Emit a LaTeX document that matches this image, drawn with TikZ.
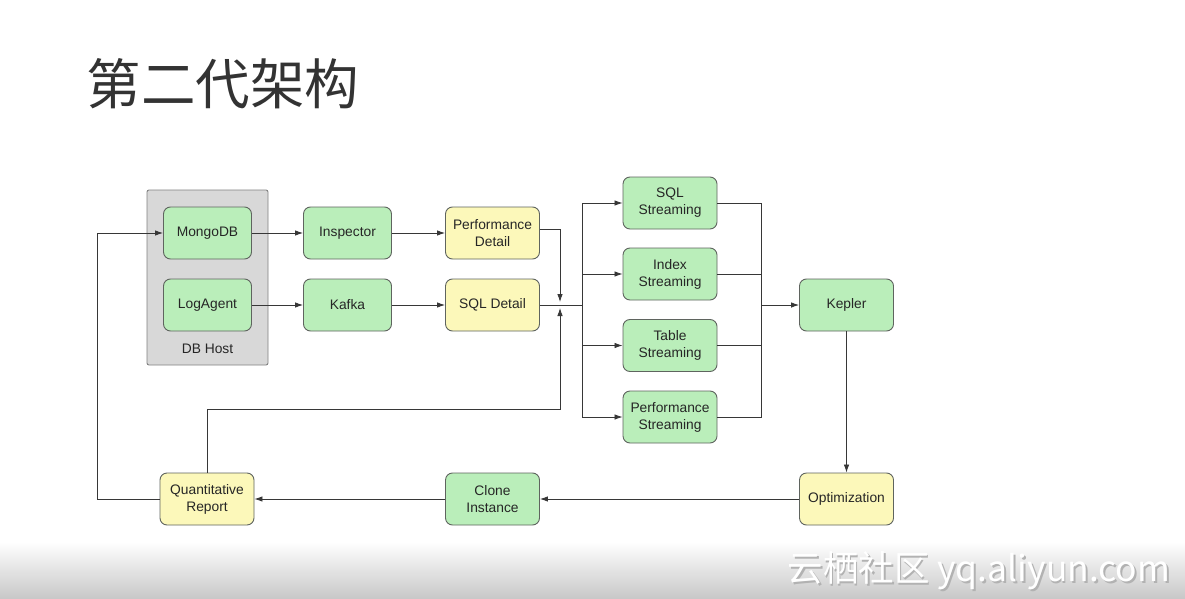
\documentclass[tikz,border=0pt]{standalone}
\usepackage{fontspec}
\setmainfont{Liberation Sans}
\newfontfamily\cjk{Noto Sans CJK SC}
\usetikzlibrary{arrows.meta}
\definecolor{gfill}{RGB}{186,238,186}
\definecolor{yfill}{RGB}{252,248,186}
\definecolor{bord}{RGB}{95,100,95}
\definecolor{hostfill}{RGB}{216,216,216}
\definecolor{hostbord}{RGB}{130,130,130}
\definecolor{linec}{RGB}{55,55,55}
\tikzset{
  box/.style={draw=bord, rounded corners=7pt, minimum width=94pt, minimum height=52pt,
    align=center, line width=0.9pt, text=black!85, font=\fontsize{13.8}{17}\selectfont},
  gbox/.style={box, fill=gfill},
  ybox/.style={box, fill=yfill},
  conn/.style={draw=linec, line width=0.8pt},
  arr/.style={conn, -{Latex[length=8pt,width=5.5pt]}},
}
\begin{document}
\begin{tikzpicture}[x=1pt,y=-1pt]
\path[use as bounding box, fill=white] (0,0) rectangle (1185,599);
% bottom band
\shade[top color=white, bottom color=black!22] (0,542) rectangle (1185,599);
\node[anchor=west, text=black!30, font=\cjk\fontsize{35.5}{36}\selectfont] (wms) at (785.8,572.3) {云栖社区 yq.aliyun.com};
\node[anchor=west, text=white, font=\cjk\fontsize{35.5}{36}\selectfont] (wm) at (784,570.5) {云栖社区 yq.aliyun.com};
% title
\node[anchor=west, font=\cjk\fontsize{54.5}{55}\selectfont, text=black!80] (title) at (83,84) {第二代架构};
% DB host
\node[draw=hostbord, fill=hostfill, rounded corners=2pt, line width=0.9pt,
  minimum width=121pt, minimum height=175pt] (host) at (207.5,277.5) {};
\node[font=\fontsize{13.8}{16}\selectfont, text=black!85] (hostlbl) at (207.5,349) {DB Host};
% nodes
\node[gbox, minimum width=88pt] (mg) at (207.5,233) {MongoDB};
\node[gbox, minimum width=88pt] (la) at (207.5,305) {LogAgent};
\node[gbox, minimum width=88pt] (ins) at (347.5,233) {Inspector};
\node[gbox, minimum width=88pt] (kf) at (347.5,305) {Kafka};
\node[ybox] (pd) at (492.5,233) {Performance\\Detail};
\node[ybox] (sd) at (492.5,305) {SQL Detail};
\node[gbox] (ss) at (670,203) {SQL\\Streaming};
\node[gbox] (is) at (670,274) {Index\\Streaming};
\node[gbox] (ts) at (670,345.5) {Table\\Streaming};
\node[gbox] (ps) at (670,417) {Performance\\Streaming};
\node[gbox] (kep) at (846.5,305) {Kepler};
\node[ybox] (opt) at (846.5,499) {Optimization};
\node[gbox] (ci) at (492.5,499) {Clone\\Instance};
\node[ybox] (qr) at (207,499) {Quantitative\\Report};
% coordinates
\coordinate (jt) at (560,302);
\coordinate (jb) at (560,308);
\coordinate (lb) at (582,305);
\coordinate (rb) at (761,305);
\coordinate (fl) at (97,499);
\coordinate (fb) at (560,409);
% connectors
\draw[arr] (mg) -- (ins);
\draw[arr] (la) -- (kf);
\draw[arr] (ins) -- (pd);
\draw[arr] (kf) -- (sd);
\draw[arr] ([yshift=4pt]pd.east) -| (jt);
\draw[conn] (sd.east) -- (lb);
\foreach \n in {ss,is,ts,ps} {\draw[arr] (lb) |- (\n.west);}
\foreach \n in {ss,is,ts,ps} {\draw[conn] (\n.east) -| (rb);}
\draw[arr] (rb) -- (kep.west);
\draw[arr] (kep) -- (opt);
\draw[arr] (opt) -- (ci);
\draw[arr] (ci) -- (qr);
\draw[arr] (qr.west) -- (fl) |- (mg.west);
\draw[arr] (qr.north) |- (fb) -- (jb);
\end{tikzpicture}
\end{document}
